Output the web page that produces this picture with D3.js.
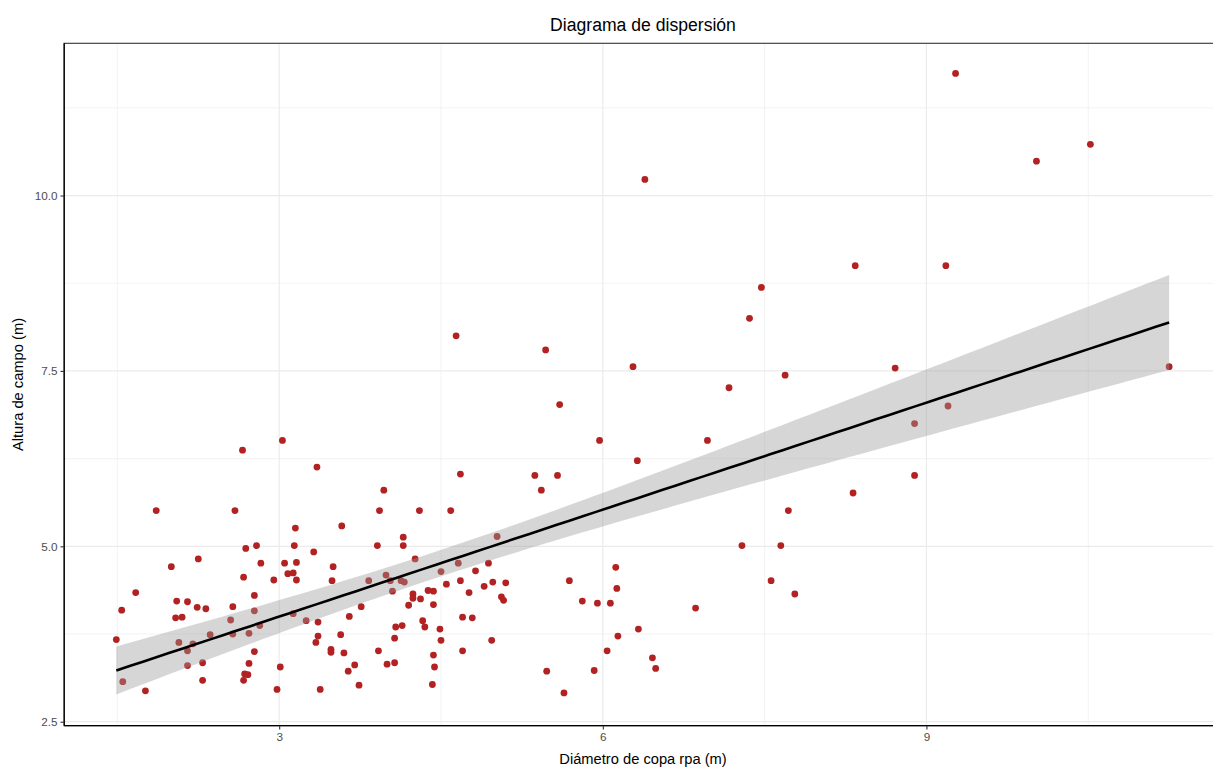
<!DOCTYPE html>
<html lang="es">
<head>
<meta charset="UTF-8">
<title>Diagrama de dispersión</title>
<style>
  body { margin: 0; background: #fff; }
  svg text { font-family: "Liberation Sans", Arial, sans-serif; }
</style>
</head>
<body>
<svg width="1213" height="767"></svg>
<script src="https://d3js.org/d3.v7.min.js"></script>
<script>

// Diámetro de copa rpa (m)
const diametro = [
  1.86, 2.59, 3.15, 2.69, 2.79, 3.14, 2.25, 2.00, 2.83, 3.05,
  3.16, 2.67, 3.08, 3.13, 2.95, 3.16, 1.67, 2.77, 1.54, 2.05,
  2.15, 2.24, 2.32, 2.57, 2.77, 2.04, 2.10, 2.55, 3.13, 3.25,
  1.49, 2.36, 2.57, 2.72, 2.82, 2.07, 2.15, 2.20, 2.77, 2.29,
  2.15, 2.72, 3.01, 2.68, 2.71, 2.67, 2.29, 1.55, 1.76, 2.98,
  3.97, 3.93, 4.30, 4.59, 3.58, 4.15, 4.15, 3.91, 3.32, 4.26,
  3.50, 3.49, 3.83, 3.99, 4.03, 4.13, 4.16, 4.05, 4.24, 4.24,
  4.31, 4.38, 4.43, 4.20, 4.43, 4.50, 4.55, 4.66, 4.68, 4.76,
  4.82, 4.94, 4.90, 4.98, 5.10, 5.02, 5.06, 5.08, 3.76, 3.65,
  3.36, 3.36, 3.34, 3.57, 3.48, 3.48, 3.60, 3.70, 3.64, 3.74,
  3.38, 3.92, 4.00, 4.07, 4.07, 4.08, 4.14, 4.33, 4.35, 4.49,
  4.50, 4.43, 4.44, 4.42, 4.70, 4.79, 4.70, 4.97,
  5.43, 6.12, 5.69, 6.13, 5.81, 5.95, 6.07, 6.86, 6.33, 6.14,
  6.04, 6.46, 6.49, 5.48, 5.92, 5.64,
  2.66, 3.03, 3.35, 4.68, 6.39, 4.64, 5.47, 6.28, 5.60, 5.97,
  6.97, 6.32, 5.37, 5.58, 8.34, 9.18, 7.47, 7.36, 8.71, 7.69,
  7.17, 9.20, 8.89, 8.89, 8.32, 7.72, 7.29, 7.65, 7.56, 7.78,
  9.27, 10.52, 10.02, 11.25
];

// Altura de campo (m)
const altura = [
  5.51, 5.51, 5.26, 4.97, 5.01, 5.01, 4.82, 4.71, 4.76, 4.76,
  4.77, 4.56, 4.61, 4.62, 4.52, 4.52, 4.34, 4.30, 4.09, 4.22,
  4.21, 4.13, 4.11, 4.14, 4.08, 3.98, 3.99, 3.95, 4.04, 3.94,
  3.67, 3.74, 3.75, 3.76, 3.87, 3.63, 3.51, 3.61, 3.50, 3.34,
  3.30, 3.33, 3.28, 3.18, 3.17, 3.09, 3.09, 3.07, 2.94, 2.96,
  5.80, 5.51, 5.51, 5.51, 5.29, 5.13, 5.01, 5.01, 4.92, 4.82,
  4.71, 4.51, 4.51, 4.59, 4.51, 4.51, 4.49, 4.36, 4.32, 4.26,
  4.25, 4.37, 4.36, 4.16, 4.17, 4.64, 4.46, 4.76, 4.51, 4.34,
  4.65, 4.76, 4.43, 4.49, 4.48, 5.14, 4.28, 4.23, 4.14, 4.00,
  3.92, 3.72, 3.63, 3.74, 3.53, 3.49, 3.48, 3.31, 3.22, 3.02,
  2.96, 3.51, 3.32, 3.34, 3.69, 3.85, 3.87, 3.94, 3.85, 3.82,
  3.66, 3.45, 3.28, 3.03, 3.99, 3.98, 3.51, 3.66,
  5.80, 4.70, 4.51, 4.40, 4.22, 4.19, 4.19, 4.12, 3.82, 3.72,
  3.51, 3.41, 3.26, 3.22, 3.23, 2.91,
  6.37, 6.51, 6.13, 6.03, 10.23, 8.00, 7.80, 7.56, 7.02, 6.51,
  6.51, 6.22, 6.01, 6.01, 9.00, 9.00, 8.69, 8.25, 7.54, 7.44,
  7.26, 7.00, 6.75, 6.01, 5.76, 5.51, 5.01, 5.01, 4.51, 4.32,
  11.74, 10.73, 10.49, 7.56
];

const xTicks = [3, 6, 9];
const xMinor = [1.5, 4.5, 7.5, 10.5];
const yTicks = [2.5, 5.0, 7.5, 10.0];
const yMinor = [3.75, 6.25, 8.75, 11.25];

const svg = d3.select("svg");

const x = d3.scaleLinear().domain([1.007, 11.74]).range([64.2, 1222]);
const y = d3.scaleLinear().domain([2.443, 12.17]).range([725.7, 43.3]);

const points = diametro.map((d, i) => ({ x: d, y: altura[i] }));

// grid
const grid = svg.append("g");
grid.selectAll(".xminor").data(xMinor).enter().append("line")
    .attr("x1", d => x(d)).attr("x2", d => x(d))
    .attr("y1", y.range()[1]).attr("y2", y.range()[0])
    .attr("stroke", "#EBEBEB").attr("stroke-width", 0.6);
grid.selectAll(".yminor").data(yMinor).enter().append("line")
    .attr("x1", x.range()[0]).attr("x2", x.range()[1])
    .attr("y1", d => y(d)).attr("y2", d => y(d))
    .attr("stroke", "#EBEBEB").attr("stroke-width", 0.6);
grid.selectAll(".xmajor").data(xTicks).enter().append("line")
    .attr("x1", d => x(d)).attr("x2", d => x(d))
    .attr("y1", y.range()[1]).attr("y2", y.range()[0])
    .attr("stroke", "#EBEBEB").attr("stroke-width", 1.2);
grid.selectAll(".ymajor").data(yTicks).enter().append("line")
    .attr("x1", x.range()[0]).attr("x2", x.range()[1])
    .attr("y1", d => y(d)).attr("y2", d => y(d))
    .attr("stroke", "#EBEBEB").attr("stroke-width", 1.2);

// points
svg.append("g").selectAll("circle").data(points).enter().append("circle")
    .attr("cx", d => x(d.x))
    .attr("cy", d => y(d.y))
    .attr("r", 3.4)
    .attr("fill", "#B22222");

// linear fit + 95% band (same as geom_smooth(method = "lm"))
const n = points.length;
const mx = d3.mean(points, d => d.x);
const my = d3.mean(points, d => d.y);
const sxx = d3.sum(points, d => (d.x - mx) ** 2);
const sxy = d3.sum(points, d => (d.x - mx) * (d.y - my));
const b = sxy / sxx;
const a = my - b * mx;
const sse = d3.sum(points, d => (d.y - a - b * d.x) ** 2);
const s = Math.sqrt(sse / (n - 2));
const tCrit = 1.974;

const [xmin, xmax] = d3.extent(points, d => d.x);
const fit = d3.range(80).map(i => {
    const xv = xmin + (xmax - xmin) * i / 79;
    const yv = a + b * xv;
    const se = s * Math.sqrt(1 / n + (xv - mx) ** 2 / sxx);
    return { x: xv, y: yv, lo: yv - tCrit * se, hi: yv + tCrit * se };
});

svg.append("path")
    .datum(fit)
    .attr("d", d3.area().x(d => x(d.x)).y0(d => y(d.lo)).y1(d => y(d.hi)))
    .attr("fill", "#999999")
    .attr("fill-opacity", 0.4);

svg.append("path")
    .datum(fit)
    .attr("d", d3.line().x(d => x(d.x)).y(d => y(d.y)))
    .attr("fill", "none")
    .attr("stroke", "#000")
    .attr("stroke-width", 2.6);

// panel border and axis lines
svg.append("rect")
    .attr("x", x.range()[0]).attr("y", y.range()[1])
    .attr("width", x.range()[1] - x.range()[0])
    .attr("height", y.range()[0] - y.range()[1])
    .attr("fill", "none").attr("stroke", "#333333").attr("stroke-width", 1.1);
svg.append("line")
    .attr("x1", x.range()[0]).attr("x2", x.range()[1])
    .attr("y1", y.range()[0]).attr("y2", y.range()[0])
    .attr("stroke", "#000").attr("stroke-width", 1.3);
svg.append("line")
    .attr("x1", x.range()[0]).attr("x2", x.range()[0])
    .attr("y1", y.range()[1]).attr("y2", y.range()[0])
    .attr("stroke", "#000").attr("stroke-width", 1.3);

// axes
const xAxis = svg.append("g")
    .attr("transform", `translate(0,${y.range()[0]})`)
    .call(d3.axisBottom(x).tickValues(xTicks).tickSize(3.7).tickPadding(3).tickFormat(d3.format("d")));
const yAxis = svg.append("g")
    .attr("transform", `translate(${x.range()[0]},0)`)
    .call(d3.axisLeft(y).tickValues(yTicks).tickSize(3.7).tickPadding(3).tickFormat(d3.format(".1f")));

[xAxis, yAxis].forEach(g => {
    g.select(".domain").remove();
    g.selectAll(".tick line").attr("stroke", "#333333").attr("stroke-width", 1.1);
    g.selectAll(".tick text").attr("fill", "#4D4D4D").attr("font-size", 11.7)
        .attr("font-family", "Liberation Sans, Arial, sans-serif");
});

// titles
svg.append("text")
    .attr("x", 643).attr("y", 31)
    .attr("text-anchor", "middle")
    .attr("font-size", 17.6)
    .attr("fill", "#000")
    .text("Diagrama de dispersión");

svg.append("text")
    .attr("x", 643).attr("y", 764)
    .attr("text-anchor", "middle")
    .attr("font-size", 14.7)
    .attr("fill", "#000")
    .text("Diámetro de copa rpa (m)");

svg.append("text")
    .attr("transform", `translate(23,${(y.range()[0] + y.range()[1]) / 2}) rotate(-90)`)
    .attr("text-anchor", "middle")
    .attr("font-size", 14.7)
    .attr("fill", "#000")
    .text("Altura de campo (m)");

</script>
</body>
</html>
